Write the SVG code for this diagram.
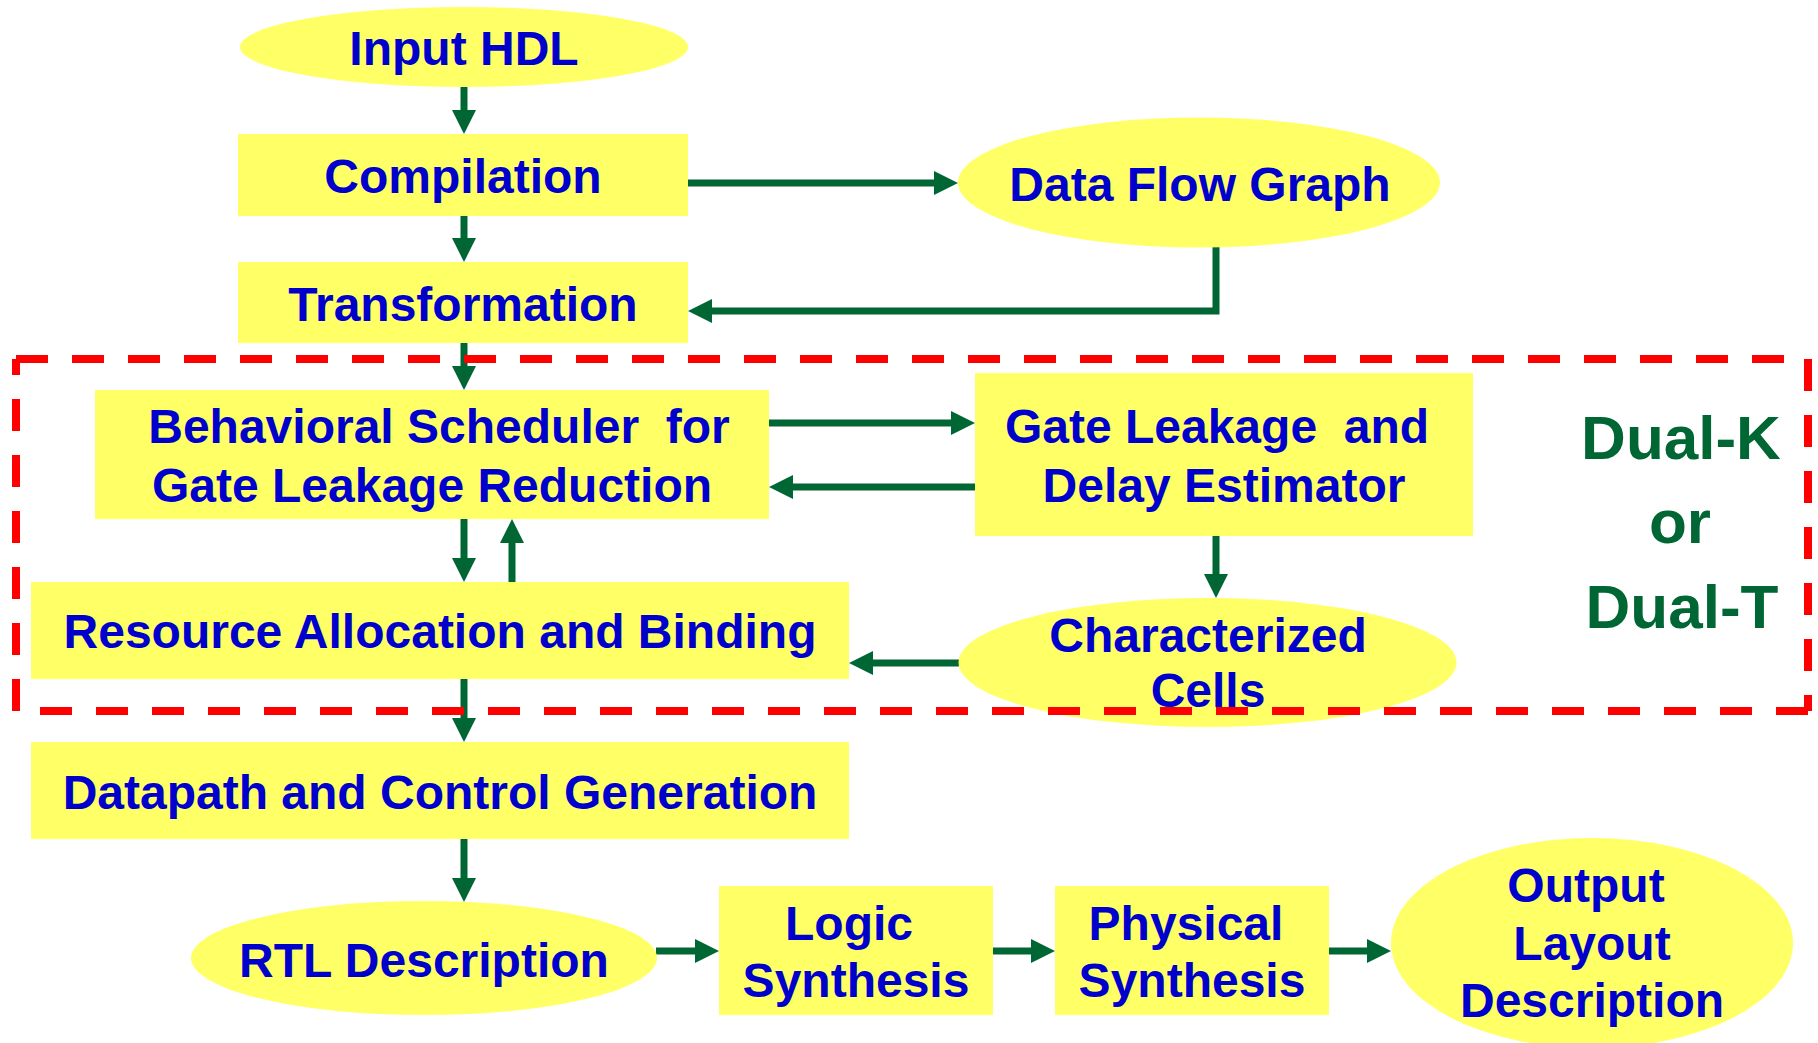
<svg xmlns="http://www.w3.org/2000/svg" width="1818" height="1043" viewBox="0 0 1818 1043">
<style>
.box{fill:#FFFF66;stroke:none}
.t{font-family:"Liberation Sans",Arial,sans-serif;font-weight:bold;font-size:48px;fill:#0000CC;text-anchor:middle;white-space:pre}
.g{font-family:"Liberation Sans",Arial,sans-serif;font-weight:bold;font-size:62px;fill:#006633;text-anchor:middle}
.c{stroke:#006633;stroke-width:7;fill:none}
.d{stroke:#FF0000;stroke-width:8;fill:none;stroke-dasharray:32 24}
</style>
<defs>
<marker id="ah" markerUnits="userSpaceOnUse" viewBox="0 0 24 24" markerWidth="24" markerHeight="24" refX="4" refY="12" orient="auto">
<path d="M0,0 L24,12 L0,24 Z" fill="#006633"/>
</marker>
</defs>
<rect width="1818" height="1043" fill="#FFFFFF"/>
<g id="connectors">
<line class="c" x1="464" y1="87" x2="464" y2="114" marker-end="url(#ah)"/>
<line class="c" x1="464" y1="216" x2="464" y2="242" marker-end="url(#ah)"/>
<line class="c" x1="688" y1="183" x2="938" y2="183" marker-end="url(#ah)"/>
<polyline class="c" points="1216,247 1216,311 708,311" marker-end="url(#ah)"/>
<line class="c" x1="464" y1="343" x2="464" y2="370" marker-end="url(#ah)"/>
<line class="c" x1="769" y1="423" x2="955" y2="423" marker-end="url(#ah)"/>
<line class="c" x1="975" y1="487" x2="789" y2="487" marker-end="url(#ah)"/>
<line class="c" x1="464" y1="519" x2="464" y2="562" marker-end="url(#ah)"/>
<line class="c" x1="512" y1="582" x2="512" y2="539" marker-end="url(#ah)"/>
<line class="c" x1="1216" y1="536" x2="1216" y2="578" marker-end="url(#ah)"/>
<line class="c" x1="959" y1="663" x2="869" y2="663" marker-end="url(#ah)"/>
<line class="c" x1="464" y1="679" x2="464" y2="722" marker-end="url(#ah)"/>
<line class="c" x1="464" y1="839" x2="464" y2="882" marker-end="url(#ah)"/>
<line class="c" x1="656" y1="951" x2="699" y2="951" marker-end="url(#ah)"/>
<line class="c" x1="993" y1="951" x2="1035" y2="951" marker-end="url(#ah)"/>
<line class="c" x1="1329" y1="951" x2="1371" y2="951" marker-end="url(#ah)"/>
</g>
<g id="input-hdl">
<ellipse class="box" cx="464" cy="47" rx="224" ry="40"/>
<text class="t" x="464" y="65">Input HDL</text>
</g>
<g id="compilation">
<rect class="box" x="238" y="134" width="450" height="82"/>
<text class="t" x="463" y="193">Compilation</text>
</g>
<g id="data-flow-graph">
<ellipse class="box" cx="1199" cy="182.5" rx="241" ry="65"/>
<text class="t" x="1200" y="201">Data Flow Graph</text>
</g>
<g id="transformation">
<rect class="box" x="238" y="262" width="450" height="81"/>
<text class="t" x="463" y="321">Transformation</text>
</g>
<g id="behavioral-scheduler">
<rect class="box" x="95" y="390" width="674" height="129"/>
<text class="t" x="439" y="443">Behavioral Scheduler  for</text>
<text class="t" x="432" y="502">Gate Leakage Reduction</text>
</g>
<g id="gate-leakage-estimator">
<rect class="box" x="975" y="373" width="498" height="163"/>
<text class="t" x="1217" y="443">Gate Leakage  and</text>
<text class="t" x="1224" y="502">Delay Estimator</text>
</g>
<g id="resource-allocation">
<rect class="box" x="31" y="582" width="818" height="97"/>
<text class="t" x="440" y="648">Resource Allocation and Binding</text>
</g>
<g id="characterized-cells">
<ellipse class="box" cx="1207.5" cy="662.5" rx="249" ry="64.5"/>
<text class="t" x="1208" y="652">Characterized</text>
<text class="t" x="1208" y="707">Cells</text>
</g>
<g id="datapath-control">
<rect class="box" x="31" y="742" width="818" height="97"/>
<text class="t" x="440" y="809">Datapath and Control Generation</text>
</g>
<g id="rtl-description">
<ellipse class="box" cx="424" cy="958" rx="233" ry="57"/>
<text class="t" x="424" y="977">RTL Description</text>
</g>
<g id="logic-synthesis">
<rect class="box" x="719" y="886" width="274" height="129"/>
<text class="t" x="849" y="940">Logic</text>
<text class="t" x="856" y="997">Synthesis</text>
</g>
<g id="physical-synthesis">
<rect class="box" x="1055" y="886" width="274" height="129"/>
<text class="t" x="1186" y="940">Physical</text>
<text class="t" x="1192" y="997">Synthesis</text>
</g>
<g id="output-layout">
<ellipse class="box" cx="1592" cy="943" rx="201" ry="105"/>
<text class="t" x="1586" y="902">Output</text>
<text class="t" x="1592" y="960">Layout</text>
<text class="t" x="1592" y="1017">Description</text>
</g>
<g id="dual-region">
<line class="d" x1="16" y1="359" x2="1808" y2="359"/>
<line class="d" x1="1808" y1="359" x2="1808" y2="711"/>
<line class="d" x1="1808" y1="711" x2="16" y2="711"/>
<line class="d" x1="16" y1="711" x2="16" y2="359"/>
<text class="g" x="1681" y="459">Dual-K</text>
<text class="g" x="1680" y="543">or</text>
<text class="g" x="1682" y="628">Dual-T</text>
</g>
</svg>
